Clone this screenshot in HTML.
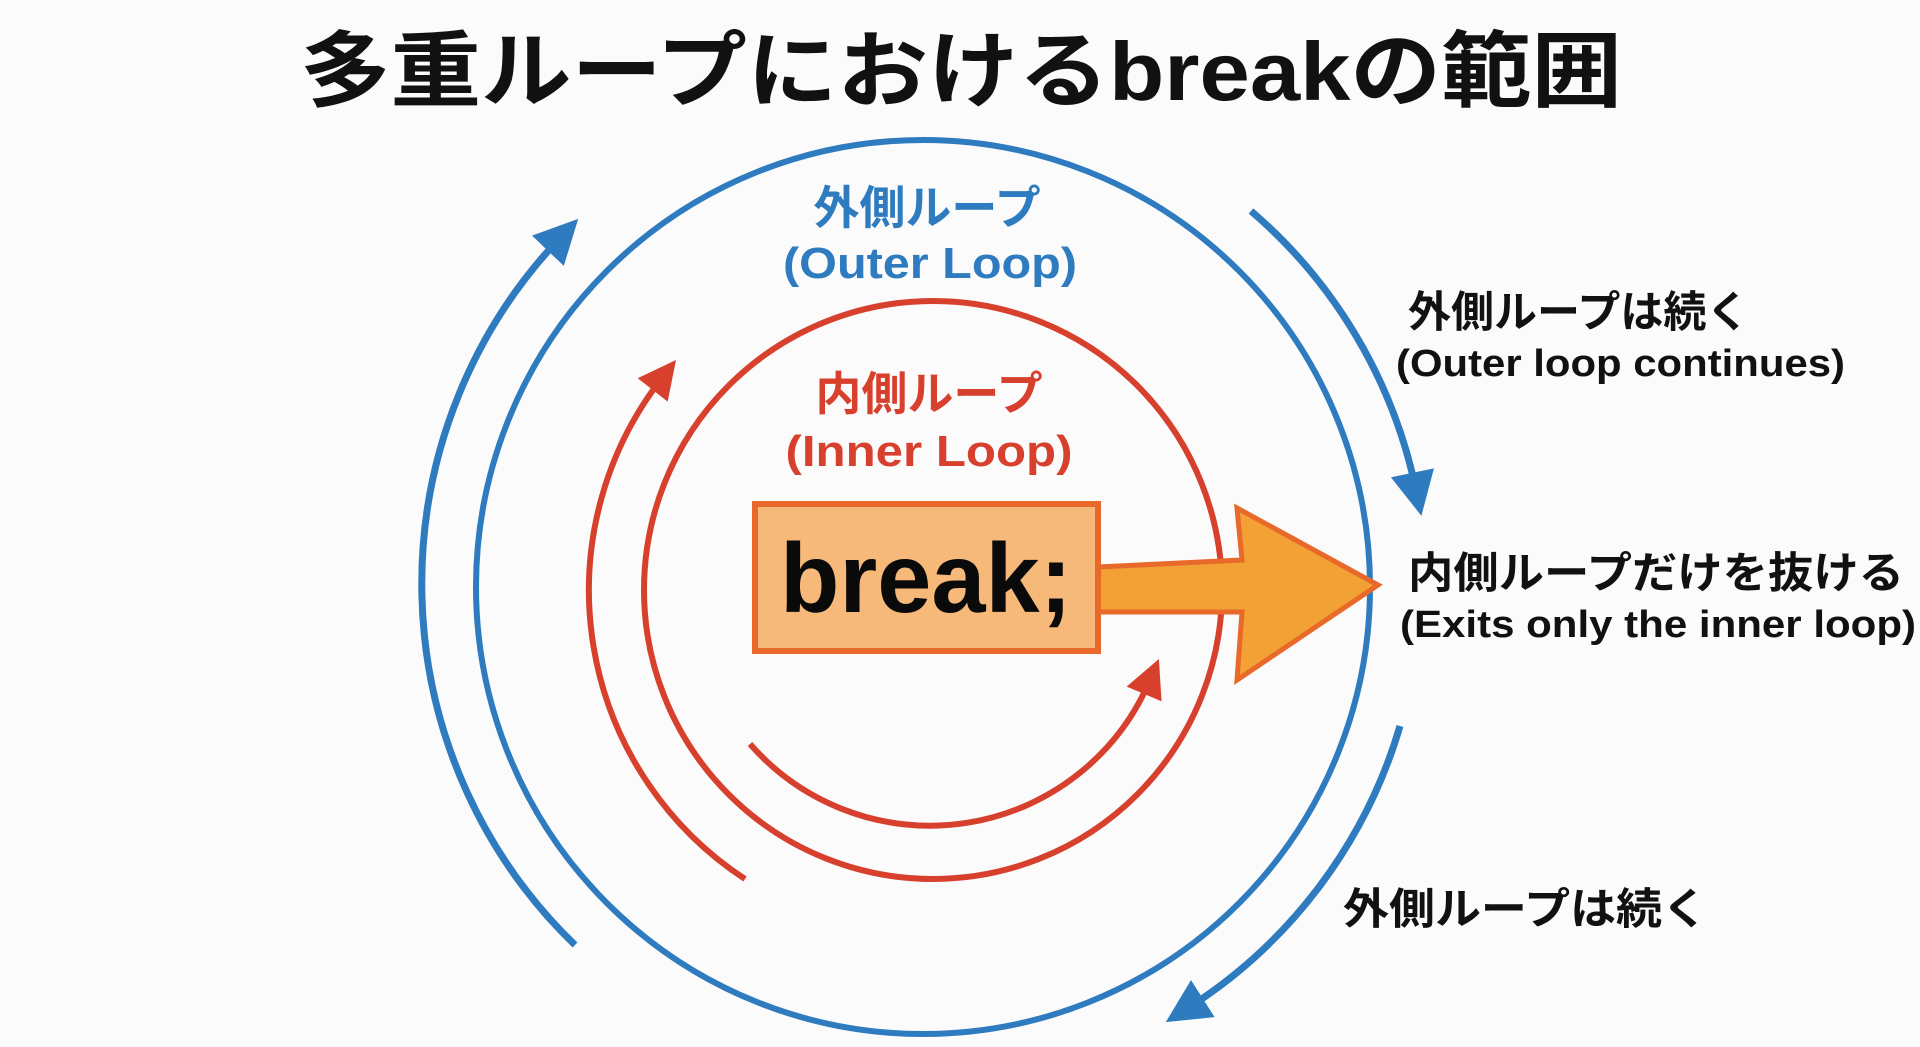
<!DOCTYPE html>
<html><head><meta charset="utf-8"><style>
html,body{margin:0;padding:0;background:#fbfbfb;}
svg{display:block}
text{font-family:"Liberation Sans","Noto Sans CJK JP",sans-serif;font-weight:bold}
</style></head><body>
<svg width="1920" height="1047" viewBox="0 0 1920 1047" xmlns="http://www.w3.org/2000/svg">
<defs>
<marker id="bh" viewBox="0 0 10 10" refX="4" refY="5" markerWidth="44" markerHeight="44" markerUnits="userSpaceOnUse" orient="auto"><path d="M0,0 L10,5 L0,10 z" fill="#2e7bbf"/></marker>
<marker id="rh" viewBox="0 0 10 10" refX="4" refY="5" markerWidth="38" markerHeight="38" markerUnits="userSpaceOnUse" orient="auto"><path d="M0,0 L10,5 L0,10 z" fill="#d8402e"/></marker>
</defs>
<rect width="1920" height="1047" fill="#fbfbfb"/>
<text x="961" y="100" font-size="83" text-anchor="middle" fill="#111" textLength="1322" lengthAdjust="spacingAndGlyphs">多重ループにおけるbreakの範囲</text>

<circle cx="923" cy="587" r="447" fill="none" stroke="#2e7bbf" stroke-width="6"/>
<circle cx="933" cy="590" r="289" fill="none" stroke="#d8402e" stroke-width="6"/>

<path d="M575,945 A502,502 0 0 1 560,238" fill="none" stroke="#2e7bbf" stroke-width="7" marker-end="url(#bh)"/>
<path d="M1251,211 A502,502 0 0 1 1416,490" fill="none" stroke="#2e7bbf" stroke-width="7" marker-end="url(#bh)"/>
<path d="M1400,726 A502,502 0 0 1 1188,1008" fill="none" stroke="#2e7bbf" stroke-width="7" marker-end="url(#bh)"/>

<path d="M745,879 A345,345 0 0 1 662,378" fill="none" stroke="#d8402e" stroke-width="6" marker-end="url(#rh)"/>
<path d="M750,744 A239,239 0 0 0 1150,680" fill="none" stroke="#d8402e" stroke-width="6" marker-end="url(#rh)"/>

<text x="927" y="224" font-size="46" text-anchor="middle" fill="#2e7bbf">外側ループ</text>
<text x="930" y="278" font-size="44" text-anchor="middle" fill="#2e7bbf" textLength="294" lengthAdjust="spacingAndGlyphs">(Outer Loop)</text>
<text x="929" y="410" font-size="46" text-anchor="middle" fill="#d8402e">内側ループ</text>
<text x="929" y="466" font-size="44" text-anchor="middle" fill="#d8402e" textLength="287" lengthAdjust="spacingAndGlyphs">(Inner Loop)</text>

<path d="M1098,567 L1242,560 L1237,508 L1378,585 L1237,680 L1242,612 L1098,612 z" fill="#f2a234" stroke="#e8692a" stroke-width="5" stroke-linejoin="miter"/>
<rect x="755" y="504" width="343" height="147" fill="#f6b97a" stroke="#e8692a" stroke-width="6"/>
<text x="926" y="612" font-size="98" text-anchor="middle" fill="#0a0a0a" textLength="292" lengthAdjust="spacingAndGlyphs">break;</text>

<text x="1408" y="327" font-size="43" fill="#111">外側ループは続く</text>
<text x="1396" y="376" font-size="38" fill="#111" textLength="449" lengthAdjust="spacingAndGlyphs">(Outer loop continues)</text>
<text x="1408" y="588" font-size="43" fill="#111" textLength="496" lengthAdjust="spacingAndGlyphs">内側ループだけを抜ける</text>
<text x="1400" y="637" font-size="38" fill="#111" textLength="516" lengthAdjust="spacingAndGlyphs">(Exits only the inner loop)</text>
<text x="1343" y="924" font-size="43" fill="#111" textLength="365" lengthAdjust="spacingAndGlyphs">外側ループは続く</text>
</svg>
</body></html>
